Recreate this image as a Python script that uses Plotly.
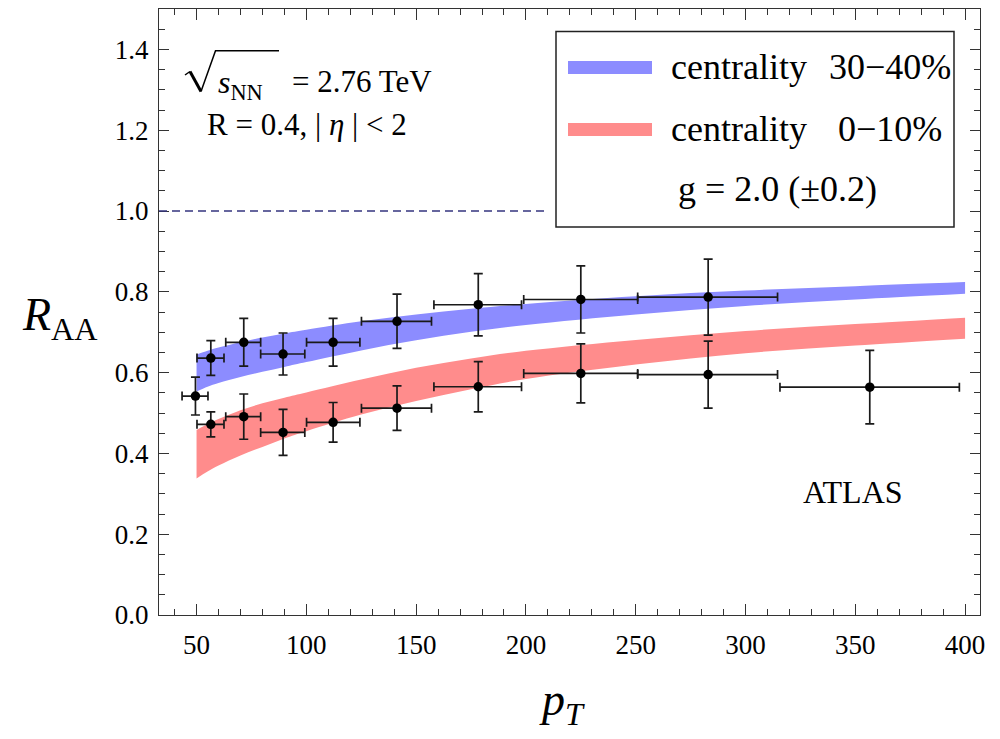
import plotly.graph_objects as go

# ---------------- data ----------------
band_x = [50, 55, 60, 70, 80, 90, 100, 125, 150, 175, 200, 250, 300, 350, 400]
blue_hi = [0.645, 0.654, 0.662, 0.675, 0.687, 0.697, 0.706, 0.727, 0.744, 0.758, 0.770, 0.789, 0.803, 0.814, 0.824]
blue_lo = [0.553, 0.565, 0.574, 0.589, 0.602, 0.614, 0.626, 0.655, 0.680, 0.701, 0.718, 0.744, 0.765, 0.781, 0.795]
red_hi = [0.458, 0.472, 0.485, 0.507, 0.524, 0.538, 0.551, 0.583, 0.612, 0.635, 0.654, 0.681, 0.703, 0.720, 0.736]
red_lo = [0.338, 0.355, 0.370, 0.395, 0.416, 0.437, 0.455, 0.496, 0.530, 0.559, 0.584, 0.620, 0.648, 0.667, 0.684]

up_x = [49.5, 56.5, 71.5, 89.4, 112.2, 141.3, 178.3, 225.0, 283.0]
up_y = [0.542, 0.636, 0.675, 0.646, 0.675, 0.727, 0.768, 0.781, 0.787]
up_err = [0.047, 0.043, 0.059, 0.052, 0.059, 0.067, 0.077, 0.083, 0.094]
up_xlo = [43.4, 50.2, 63.3, 79.2, 100.1, 125.1, 158.1, 199.0, 250.9]
up_xhi = [55.2, 62.5, 79.2, 99.3, 124.4, 157.0, 198.0, 250.9, 314.6]

lo_x = [56.5, 71.5, 89.4, 112.2, 141.3, 178.3, 225.0, 283.0, 356.6]
lo_y = [0.472, 0.491, 0.452, 0.477, 0.512, 0.565, 0.598, 0.595, 0.564]
lo_err = [0.031, 0.056, 0.057, 0.049, 0.055, 0.062, 0.073, 0.083, 0.091]
lo_xlo = [50.2, 63.3, 79.2, 100.1, 125.1, 158.1, 199.0, 250.9, 315.7]
lo_xhi = [62.5, 79.2, 99.3, 124.4, 157.0, 198.0, 250.9, 314.6, 397.4]

ref_y = 1.0
x_ticks = [50, 100, 150, 200, 250, 300, 350, 400]
y_ticks = [0.0, 0.2, 0.4, 0.6, 0.8, 1.0, 1.2, 1.4]

BLUE = "#8c8cff"
RED = "#ff8c8c"
FONT = "Liberation Serif"

# ---------------- layout geometry (pixels) ----------------
W, H = 1000, 739
L, R, T, B = 159, 20, 9, 124
PW, PH = W - L - R, H - T - B


def px(x):
    return (x - L) / PW


def py(y):
    return (H - B - y) / PH


fig = go.Figure()

# theory bands
for lo, hi, col in [(blue_lo, blue_hi, BLUE), (red_lo, red_hi, RED)]:
    fig.add_trace(go.Scatter(x=band_x, y=lo, mode="lines", line=dict(width=0, color=col, shape="spline"),
                             hoverinfo="skip", showlegend=False))
    fig.add_trace(go.Scatter(x=band_x, y=hi, mode="lines", line=dict(width=0, color=col, shape="spline"),
                             fill="tonexty", fillcolor=col, hoverinfo="skip", showlegend=False))

# ATLAS data points
for xs, ys, es, xl, xh in [(up_x, up_y, up_err, up_xlo, up_xhi), (lo_x, lo_y, lo_err, lo_xlo, lo_xhi)]:
    fig.add_trace(go.Scatter(
        x=xs, y=ys, mode="markers",
        marker=dict(size=9.5, color="black"),
        error_y=dict(type="data", array=es, color="#1a1a1a", thickness=1.7, width=4.5),
        error_x=dict(type="data", array=[h - x for h, x in zip(xh, xs)],
                     arrayminus=[x - l for x, l in zip(xs, xl)],
                     color="#1a1a1a", thickness=1.7, width=4.5),
        showlegend=False))

shapes = []
# dashed reference line
shapes.append(dict(type="line", xref="paper", yref="y", x0=0, x1=px(549), y0=ref_y, y1=ref_y,
                   line=dict(color="#35357f", width=1.3, dash="8px,5px")))
# legend box
shapes.append(dict(type="rect", xref="paper", yref="paper", x0=px(556), x1=px(954), y0=py(227), y1=py(31.5),
                   fillcolor="white", line=dict(color="#222", width=1.5)))
shapes.append(dict(type="line", xref="paper", yref="paper", x0=px(568), x1=px(652), y0=py(67.5), y1=py(67.5),
                   line=dict(color=BLUE, width=13)))
shapes.append(dict(type="line", xref="paper", yref="paper", x0=px(568), x1=px(652), y0=py(129.5), y1=py(129.5),
                   line=dict(color=RED, width=13)))
# radical sign
shapes.append(dict(type="path", xref="paper", yref="paper",
                   path="M {},{} L {},{}".format(px(185), py(75), px(190), py(71.5)),
                   line=dict(color="black", width=1.5)))
shapes.append(dict(type="path", xref="paper", yref="paper",
                   path="M {},{} L {},{}".format(px(190), py(71.5), px(201), py(91.5)),
                   line=dict(color="black", width=3)))
shapes.append(dict(type="path", xref="paper", yref="paper",
                   path="M {},{} L {},{} L {},{}".format(px(201), py(91.5), px(215.5), py(50.8), px(279), py(50.8)),
                   line=dict(color="black", width=1.5)))

annotations = []


def ann(text, x, y, size, xanchor="left", color="black"):
    annotations.append(dict(text=text, x=px(x), y=py(y), xref="paper", yref="paper",
                            xanchor=xanchor, yanchor="middle", showarrow=False,
                            font=dict(family=FONT, size=size, color=color)))


ann("<i>s</i><sub>NN</sub>", 216, 84, 32)
ann("= 2.76 TeV", 290, 81, 31)
ann("R = 0.4, |\u00a0<i>η</i>\u00a0|\u00a0&lt;\u00a02", 205, 124, 31)
ann("centrality", 669, 67, 36)
ann("30−40%", 827, 67, 36)
ann("centrality", 669, 129, 36)
ann("0−10%", 836, 129, 36)
ann("g = 2.0 (±0.2)", 676, 189, 36)
ann("ATLAS", 853, 492, 32, xanchor="center")
ann("<i>R</i><sub>AA</sub>", 20, 318, 46)
ann("<i>p</i><sub><i>T</i></sub>", 562, 703, 46, xanchor="center")

axis_common = dict(showline=True, linecolor="#333", linewidth=1.3, mirror="ticks", ticks="inside",
                   tickcolor="#333", tickwidth=1, showgrid=False, zeroline=False,
                   tickfont=dict(family=FONT, size=27, color="black"))

fig.update_layout(
    width=W, height=H,
    font=dict(family=FONT, color="black"),
    margin=dict(l=L, r=R, t=T, b=B, pad=0),
    paper_bgcolor="white", plot_bgcolor="white",
    showlegend=False,
    shapes=shapes, annotations=annotations,
    xaxis=dict(range=[32.9, 406.8], tickvals=x_ticks, ticklen=11,
               minor=dict(ticks="inside", dtick=10, tick0=0, ticklen=6, tickcolor="#333", tickwidth=1),
               ticklabelstandoff=5, **axis_common),
    yaxis=dict(range=[0, 1.5], tickvals=y_ticks, tickformat=".1f", ticklen=10,
               minor=dict(ticks="inside", dtick=0.05, tick0=0, ticklen=6, tickcolor="#333", tickwidth=1),
               ticklabelstandoff=4, **axis_common),
)

fig.write_html("out.html")
